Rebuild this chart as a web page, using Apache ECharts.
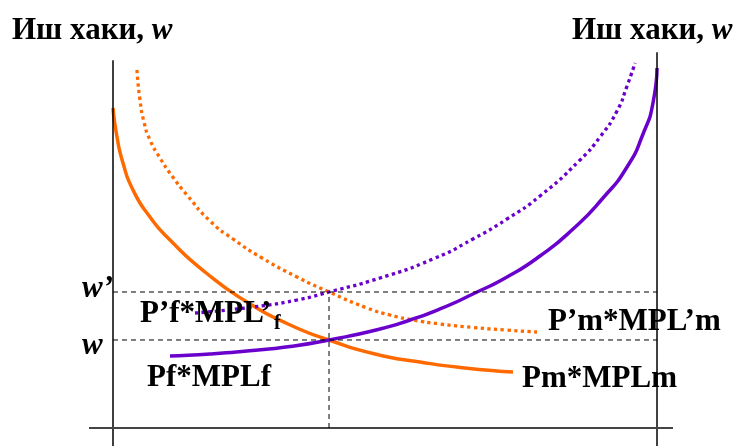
<!DOCTYPE html>
<html>
<head>
<meta charset="utf-8">
<script src="https://cdn.jsdelivr.net/npm/echarts@6/dist/echarts.min.js"></script>
<style>html,body{margin:0;padding:0;background:#fff}#c{width:736px;height:446px}</style>
</head>
<body>
<div id="c"></div>
<script>
// Labour on x (0 = left axis, 100 = right axis), wage on y (0 = horizontal axis)
const pfMPLf = [[0,84.21],[0.74,76.58],[1.84,69.74],[3.68,62.63],[6.8,55.53],[10.48,49.47],[16.91,41.05],[24.63,33.16],[32.17,27.37],[39.71,23.16],[48.16,19.47],[56.43,17.37],[64.71,15.79],[73.53,14.74]];
const pfMPLfNew = [[4.41,94.21],[4.96,86.32],[5.7,80.53],[6.8,75.79],[8.64,71.05],[10.85,66.32],[13.6,61.32],[17.83,54.47],[22.06,49.74],[27.39,44.74],[33.82,39.74],[39.71,35.79],[46.69,31.58],[50.92,29.74],[55.15,28.42],[60.11,27.37],[66.18,26.45],[72.06,25.79],[77.94,25.26]];
const pmMPLm = [[10.48,18.95],[17.83,19.47],[24.63,20.26],[32.54,21.45],[39.71,23.16],[49.08,26.05],[54.6,28.42],[60.11,31.32],[66.54,35.53],[72.43,39.74],[78.49,45.26],[84.56,52.37],[90.07,60.53],[94.49,68.68],[97.43,77.37],[99.26,85.53],[100,94.74]];
const pmMPLmNew = [[15.07,30.26],[25.74,31.84],[33.82,33.68],[39.71,35.79],[49.08,39.47],[58.82,44.47],[66.18,49.74],[72.43,55.0],[78.49,61.05],[85.85,70.53],[89.52,76.58],[92.65,83.42],[94.49,90.0],[95.96,96.05]];
const wLevel = 23.16;
const wPrimeLevel = 35.79;
const lStar = 39.71;
const labourMax = 100;
const leftAxisTop = 96.8;
const rightAxisTop = 98.9;
const axisBottom = -4.74;
const hAxisFrom = -4.41;
const hAxisTo = 102.94;
const xRange = [-20.77, 114.52];
const yRange = [-4.74, 112.63];

const titleLeft = 'Иш хаки, ';
const wSym = 'w';
const labels = {
  pfNew: 'P’f*MPL’', pfNewSub: 'f', pf: 'Pf*MPLf',
  pmNew: 'P’m*MPL’m', pm: 'Pm*MPLm', wPrime: 'w’', w: 'w'
};

const ORANGE = '#ff6a00', PURPLE = '#6a00cc';
const F = '"Liberation Serif","Times New Roman",serif';

function curve(data, color, dotted) {
  return {type:'line', data, smooth:0.6, showSymbol:false, z:2, clip:false,
    lineStyle:{color, width: dotted ? 3.3 : 3.5, type: dotted ? [3.3,3.4] : 'solid', cap:'butt'}};
}
function seg(data, color, width, dashed) {
  return {type:'line', data, showSymbol:false, z:100, clip:false,
    lineStyle:{color, width, type: dashed ? [5,4] : 'solid'}};
}
function txt(x, baseline, text, size, italic) {
  return {type:'text', x, y: baseline - 0.305*size, z: 50,
    style:{text, font:(italic?'italic ':'')+'bold '+size+'px '+F, fill:'#000', verticalAlign:'middle'}};
}
function richTitle(x, baseline) {
  const s = 31;
  return {type:'text', x, y: baseline - 0.305*s, z:50,
    style:{text:'{a|'+titleLeft+'}{b|'+wSym+'}', verticalAlign:'middle',
      rich:{a:{font:'bold '+s+'px '+F, fill:'#000'}, b:{font:'italic bold '+s+'px '+F, fill:'#000'}}}};
}

const chart = echarts.init(document.getElementById('c'), null, {renderer:'canvas'});
chart.setOption({
  animation:false,
  grid:{left:0,right:0,top:0,bottom:0},
  xAxis:{type:'value', min:xRange[0], max:xRange[1], show:false},
  yAxis:{type:'value', min:yRange[0], max:yRange[1], show:false},
  series:[
    curve(pfMPLf, ORANGE, false),
    curve(pfMPLfNew, ORANGE, true),
    curve(pmMPLm, PURPLE, false),
    curve(pmMPLmNew, PURPLE, true),
    seg([[0,axisBottom],[0,leftAxisTop]], '#000', 1.5, false),
    seg([[labourMax,axisBottom],[labourMax,rightAxisTop]], '#000', 1.5, false),
    seg([[hAxisFrom,0],[hAxisTo,0]], '#444', 2, false),
    seg([[0,wPrimeLevel],[labourMax,wPrimeLevel]], '#000', 1, true),
    seg([[0,wLevel],[labourMax,wLevel]], '#000', 1, true),
    seg([[lStar,0],[lStar,wPrimeLevel]], '#000', 1, true)
  ],
  graphic:[
    richTitle(12, 40),
    richTitle(572, 40),
    txt(82, 298, labels.wPrime, 31, true),
    txt(82, 355, labels.w, 31, true),
    txt(140, 323, labels.pfNew, 31, false),
    txt(274, 330, labels.pfNewSub, 20, false),
    txt(147, 387, labels.pf, 31, false),
    txt(548, 331, labels.pmNew, 31, false),
    txt(522, 388, labels.pm, 31, false)
  ]
});
</script>
</body>
</html>
